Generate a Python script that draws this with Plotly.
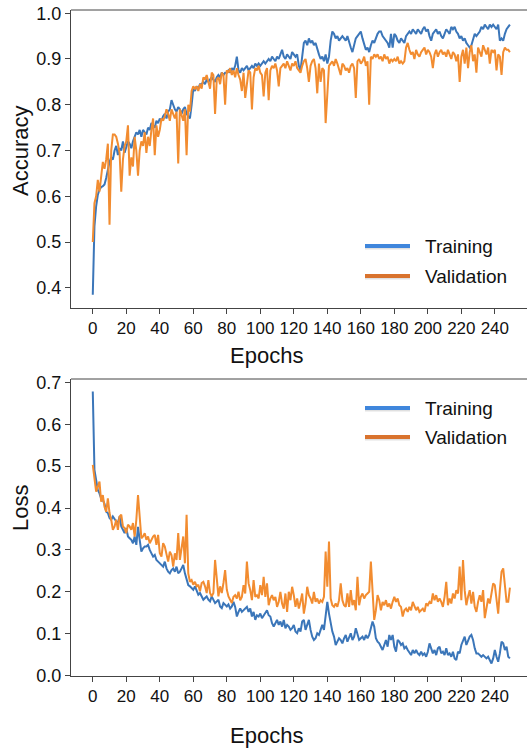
import plotly.graph_objects as go

epochs = list(range(250))

acc_train = [
    0.385, 0.535, 0.578, 0.603, 0.615, 0.620, 0.622, 0.626, 0.640, 0.660,
    0.675, 0.685, 0.680, 0.700, 0.710, 0.690, 0.705, 0.700, 0.720, 0.695,
    0.710, 0.720, 0.715, 0.705, 0.720, 0.730, 0.740, 0.735, 0.745, 0.730,
    0.745, 0.740, 0.735, 0.750, 0.745, 0.760, 0.755, 0.750, 0.765, 0.760,
    0.770, 0.765, 0.775, 0.780, 0.770, 0.785, 0.790, 0.810, 0.800, 0.790,
    0.785, 0.795, 0.790, 0.780, 0.790, 0.795, 0.780, 0.775, 0.770, 0.800,
    0.835, 0.830, 0.840, 0.835, 0.845, 0.845, 0.850, 0.845, 0.855, 0.850,
    0.855, 0.860, 0.855, 0.850, 0.860, 0.865, 0.860, 0.870, 0.865, 0.870,
    0.870, 0.875, 0.870, 0.880, 0.875, 0.885, 0.905, 0.875, 0.870, 0.880,
    0.875, 0.880, 0.885, 0.875, 0.880, 0.885, 0.880, 0.890, 0.885, 0.890,
    0.885, 0.890, 0.895, 0.890, 0.895, 0.900, 0.895, 0.905, 0.900, 0.895,
    0.905, 0.900, 0.910, 0.920, 0.905, 0.900, 0.910, 0.905, 0.900, 0.915,
    0.910, 0.905, 0.910, 0.885, 0.875, 0.900, 0.935, 0.940, 0.930, 0.945,
    0.935, 0.940, 0.930, 0.935, 0.920, 0.910, 0.900, 0.905, 0.895, 0.910,
    0.890, 0.905, 0.940, 0.960, 0.955, 0.945, 0.950, 0.940, 0.945, 0.950,
    0.945, 0.940, 0.950, 0.935, 0.925, 0.915, 0.930, 0.945, 0.950, 0.955,
    0.960, 0.945, 0.930, 0.920, 0.925, 0.915, 0.930, 0.940, 0.935, 0.945,
    0.955, 0.960, 0.960, 0.950, 0.945, 0.940, 0.935, 0.925, 0.955, 0.925,
    0.955, 0.950, 0.940, 0.935, 0.945, 0.940, 0.935, 0.950, 0.955, 0.960,
    0.955, 0.965, 0.960, 0.955, 0.965, 0.960, 0.955, 0.965, 0.970, 0.960,
    0.965, 0.950, 0.940, 0.955, 0.960, 0.965, 0.955, 0.960, 0.950, 0.945,
    0.955, 0.965, 0.960, 0.955, 0.970, 0.965, 0.970, 0.960, 0.955, 0.945,
    0.950, 0.940, 0.945, 0.935, 0.930, 0.925, 0.930, 0.945, 0.955, 0.950,
    0.955, 0.960, 0.970, 0.965, 0.975, 0.970, 0.965, 0.975, 0.970, 0.975,
    0.970, 0.965, 0.975, 0.940, 0.945, 0.940, 0.955, 0.965, 0.970, 0.975,
]

acc_val = [
    0.500, 0.585, 0.600, 0.636, 0.610, 0.640, 0.675, 0.660, 0.680, 0.715,
    0.538, 0.700, 0.735, 0.735, 0.730, 0.715, 0.695, 0.610, 0.680, 0.710,
    0.720, 0.755, 0.645, 0.685, 0.665, 0.730, 0.700, 0.645, 0.700, 0.720,
    0.710, 0.740, 0.695, 0.730, 0.710, 0.745, 0.770, 0.690, 0.755, 0.730,
    0.745, 0.770, 0.765, 0.775, 0.790, 0.780, 0.765, 0.790, 0.780, 0.770,
    0.785, 0.672, 0.790, 0.775, 0.765, 0.790, 0.690, 0.800, 0.785, 0.830,
    0.840, 0.835, 0.840, 0.830, 0.845, 0.835, 0.860, 0.855, 0.865, 0.850,
    0.835, 0.870, 0.865, 0.780, 0.855, 0.860, 0.845, 0.870, 0.865, 0.800,
    0.875, 0.870, 0.880, 0.865, 0.875, 0.860, 0.880, 0.865, 0.855, 0.830,
    0.870, 0.815, 0.850, 0.875, 0.870, 0.790, 0.860, 0.880, 0.875, 0.885,
    0.870, 0.865, 0.818, 0.870, 0.880, 0.810, 0.875, 0.885, 0.880, 0.890,
    0.875, 0.840, 0.880, 0.885, 0.890, 0.880, 0.895, 0.885, 0.875, 0.890,
    0.885, 0.895, 0.880, 0.875, 0.870, 0.885, 0.895, 0.900, 0.880, 0.850,
    0.885, 0.895, 0.900, 0.880, 0.825, 0.890, 0.850, 0.880, 0.875, 0.760,
    0.815, 0.885, 0.890, 0.895, 0.885, 0.900, 0.890, 0.875, 0.865, 0.890,
    0.885, 0.875, 0.880, 0.870, 0.885, 0.890, 0.880, 0.815, 0.895, 0.900,
    0.890, 0.895, 0.905, 0.885, 0.895, 0.800, 0.905, 0.900, 0.910, 0.905,
    0.910, 0.900, 0.905, 0.895, 0.910, 0.900, 0.905, 0.890, 0.900, 0.895,
    0.900, 0.895, 0.905, 0.890, 0.895, 0.890, 0.895, 0.925, 0.935, 0.920,
    0.910, 0.915, 0.900, 0.920, 0.910, 0.905, 0.915, 0.920, 0.925, 0.910,
    0.920, 0.915, 0.905, 0.880, 0.910, 0.920, 0.905, 0.915, 0.920, 0.910,
    0.915, 0.905, 0.920, 0.910, 0.900, 0.915, 0.910, 0.895, 0.910, 0.850,
    0.905, 0.920, 0.890, 0.925, 0.880, 0.915, 0.930, 0.895, 0.910, 0.870,
    0.925, 0.915, 0.905, 0.930, 0.920, 0.910, 0.925, 0.890, 0.920, 0.915,
    0.920, 0.875, 0.910, 0.905, 0.865, 0.915, 0.925, 0.920, 0.920, 0.915,
]

loss_train = [
    0.678, 0.491, 0.467, 0.443, 0.435, 0.423, 0.419, 0.410, 0.391, 0.388,
    0.376, 0.372, 0.380, 0.372, 0.368, 0.364, 0.380, 0.356, 0.348, 0.340,
    0.352, 0.332, 0.328, 0.324, 0.316, 0.332, 0.312, 0.355, 0.324, 0.296,
    0.304, 0.308, 0.308, 0.312, 0.300, 0.292, 0.284, 0.288, 0.276, 0.272,
    0.268, 0.264, 0.260, 0.272, 0.256, 0.248, 0.244, 0.252, 0.256, 0.248,
    0.260, 0.244, 0.248, 0.256, 0.264, 0.244, 0.228, 0.216, 0.213, 0.209,
    0.205, 0.213, 0.201, 0.193, 0.197, 0.189, 0.181, 0.185, 0.189, 0.181,
    0.177, 0.189, 0.181, 0.173, 0.177, 0.181, 0.165, 0.161, 0.173, 0.169,
    0.165, 0.170, 0.160, 0.165, 0.176, 0.164, 0.141, 0.152, 0.160, 0.152,
    0.156, 0.160, 0.164, 0.152, 0.160, 0.141, 0.152, 0.133, 0.144, 0.141,
    0.148, 0.137, 0.144, 0.152, 0.156, 0.144, 0.141, 0.125, 0.117, 0.125,
    0.133, 0.121, 0.129, 0.117, 0.133, 0.113, 0.121, 0.117, 0.109, 0.113,
    0.121, 0.105, 0.101, 0.113, 0.105, 0.129, 0.133, 0.109, 0.121, 0.133,
    0.109, 0.093, 0.085, 0.089, 0.101, 0.097, 0.109, 0.121, 0.109, 0.145,
    0.176, 0.148, 0.125, 0.105, 0.093, 0.073, 0.081, 0.089, 0.085, 0.077,
    0.089, 0.097, 0.081, 0.093, 0.101, 0.085, 0.093, 0.113, 0.097, 0.085,
    0.089, 0.093, 0.085, 0.097, 0.089, 0.097, 0.113, 0.129, 0.117, 0.089,
    0.081, 0.077, 0.069, 0.061, 0.073, 0.085, 0.069, 0.097, 0.085, 0.097,
    0.069, 0.057, 0.085, 0.081, 0.073, 0.077, 0.065, 0.069, 0.061, 0.053,
    0.049, 0.061, 0.053, 0.061, 0.053, 0.049, 0.057, 0.049, 0.053, 0.045,
    0.057, 0.077, 0.065, 0.053, 0.061, 0.049, 0.065, 0.069, 0.053, 0.057,
    0.049, 0.065, 0.049, 0.053, 0.045, 0.057, 0.041, 0.037, 0.057, 0.053,
    0.073, 0.085, 0.093, 0.073, 0.085, 0.093, 0.097, 0.085, 0.065, 0.053,
    0.053, 0.049, 0.045, 0.049, 0.045, 0.041, 0.045, 0.037, 0.029, 0.041,
    0.061, 0.045, 0.033, 0.053, 0.081, 0.077, 0.061, 0.069, 0.045, 0.041,
]

loss_val = [
    0.503, 0.467, 0.439, 0.451, 0.463, 0.415, 0.431, 0.403, 0.391, 0.423,
    0.388, 0.372, 0.348, 0.356, 0.372, 0.348, 0.380, 0.384, 0.356, 0.352,
    0.340, 0.360, 0.356, 0.348, 0.364, 0.332, 0.372, 0.431, 0.372, 0.328,
    0.332, 0.340, 0.324, 0.332, 0.316, 0.324, 0.332, 0.336, 0.312, 0.336,
    0.292, 0.284, 0.316, 0.308, 0.288, 0.272, 0.296, 0.288, 0.260, 0.292,
    0.276, 0.340, 0.276, 0.308, 0.332, 0.268, 0.384, 0.244, 0.224, 0.228,
    0.217, 0.224, 0.213, 0.217, 0.201, 0.221, 0.224, 0.213, 0.197, 0.228,
    0.197, 0.189, 0.197, 0.276, 0.228, 0.189, 0.213, 0.197, 0.221, 0.252,
    0.205, 0.189, 0.181, 0.173, 0.188, 0.192, 0.184, 0.200, 0.180, 0.188,
    0.216, 0.196, 0.272, 0.220, 0.204, 0.180, 0.228, 0.188, 0.192, 0.184,
    0.216, 0.192, 0.236, 0.188, 0.220, 0.168, 0.184, 0.192, 0.180, 0.188,
    0.164, 0.176, 0.200, 0.172, 0.160, 0.196, 0.152, 0.200, 0.180, 0.212,
    0.192, 0.164, 0.184, 0.160, 0.176, 0.196, 0.148, 0.172, 0.212, 0.192,
    0.184, 0.172, 0.200, 0.176, 0.184, 0.172, 0.180, 0.176, 0.188, 0.296,
    0.212, 0.320, 0.184, 0.168, 0.164, 0.172, 0.164, 0.180, 0.220, 0.180,
    0.168, 0.164, 0.196, 0.164, 0.204, 0.168, 0.180, 0.156, 0.236, 0.168,
    0.188, 0.196, 0.184, 0.192, 0.196, 0.200, 0.272, 0.188, 0.133, 0.156,
    0.192, 0.180, 0.156, 0.176, 0.168, 0.180, 0.164, 0.172, 0.160, 0.176,
    0.188, 0.176, 0.184, 0.168, 0.164, 0.141, 0.156, 0.160, 0.152, 0.164,
    0.156, 0.176, 0.168, 0.156, 0.164, 0.152, 0.156, 0.160, 0.152, 0.172,
    0.168, 0.176, 0.172, 0.196, 0.180, 0.192, 0.176, 0.184, 0.176, 0.164,
    0.188, 0.224, 0.168, 0.184, 0.172, 0.196, 0.184, 0.204, 0.196, 0.260,
    0.180, 0.276, 0.204, 0.168, 0.188, 0.204, 0.172, 0.200, 0.164, 0.152,
    0.176, 0.192, 0.176, 0.204, 0.137, 0.164, 0.184, 0.172, 0.192, 0.220,
    0.216, 0.188, 0.148, 0.204, 0.248, 0.256, 0.212, 0.176, 0.176, 0.210,
]

series_names = ["Training", "Validation"]
x_ticks = list(range(0, 241, 20))
acc_ticks = [0.4, 0.5, 0.6, 0.7, 0.8, 0.9, 1.0]
loss_ticks = [0.0, 0.1, 0.2, 0.3, 0.4, 0.5, 0.6, 0.7]

W, H = 527, 750
BLUE = "#3b76b9"
ORANGE = "#f28c30"
LEG_BLUE = "#3f86dc"
LEG_ORANGE = "#d9732e"
AXC = "#444"
FONT = "Liberation Sans, Arial, Helvetica, sans-serif"


def px_x(p):
    return p / W


def px_y(p):
    return 1 - p / H


fig = go.Figure()
fig.add_trace(go.Scatter(x=epochs, y=acc_train, mode="lines", name=series_names[0],
                         line=dict(color=BLUE, width=2), xaxis="x", yaxis="y", showlegend=False))
fig.add_trace(go.Scatter(x=epochs, y=acc_val, mode="lines", name=series_names[1],
                         line=dict(color=ORANGE, width=2), xaxis="x", yaxis="y", showlegend=False))
fig.add_trace(go.Scatter(x=epochs, y=loss_train, mode="lines", name=series_names[0],
                         line=dict(color=BLUE, width=2), xaxis="x2", yaxis="y2", showlegend=False))
fig.add_trace(go.Scatter(x=epochs, y=loss_val, mode="lines", name=series_names[1],
                         line=dict(color=ORANGE, width=2), xaxis="x2", yaxis="y2", showlegend=False))

x_common = dict(
    showgrid=False, zeroline=False, showline=True, linecolor=AXC, linewidth=1,
    ticks="outside", ticklen=5, tickwidth=1, tickcolor=AXC,
    tickfont=dict(family=FONT, size=17, color="#111"), automargin=False,
)
y_common = dict(
    showgrid=False, zeroline=False, showline=True, linecolor=AXC, linewidth=1,
    ticks="outside", ticklen=5, tickwidth=1, tickcolor=AXC, ticklabeloverflow="allow",
    tickfont=dict(family=FONT, size=18, color="#111"), automargin=False,
)

xr = [-13, 259.2]
top_acc, bot_acc = 10, 308
top_loss, bot_loss = 379, 676
fig.update_layout(
    width=W, height=H, margin=dict(l=0, r=0, t=0, b=0),
    paper_bgcolor="white", plot_bgcolor="white", showlegend=False,
    xaxis=dict(domain=[px_x(71), 1.0], range=xr, tickvals=x_ticks, anchor="y", **x_common),
    yaxis=dict(domain=[px_y(bot_acc), px_y(top_acc)], range=[0.356, 1.007], tickvals=acc_ticks,
               tickformat=".1f", anchor="x", **y_common),
    xaxis2=dict(domain=[px_x(71), 1.0], range=xr, tickvals=x_ticks, anchor="y2", **x_common),
    yaxis2=dict(domain=[px_y(bot_loss), px_y(top_loss)], range=[-0.001, 0.708], tickvals=loss_ticks,
                tickformat=".1f", anchor="x2", **y_common),
)

# top frame line of each panel
for yy in (top_acc, top_loss):
    fig.add_shape(type="line", xref="paper", yref="paper", layer="above",
                  x0=px_x(71), x1=1.0, y0=px_y(yy), y1=px_y(yy),
                  line=dict(color=AXC, width=1))

title_font = dict(family=FONT, size=22, color="#111")
annotations = [
    dict(text="Accuracy", x=px_x(20), y=px_y(151), textangle=-90),
    dict(text="Loss", x=px_x(20), y=px_y(508), textangle=-90),
    dict(text="Epochs", x=px_x(266), y=px_y(355)),
    dict(text="Epochs", x=px_x(266), y=px_y(735)),
]
for a in annotations:
    fig.add_annotation(xref="paper", yref="paper", showarrow=False, font=title_font,
                       xanchor="center", yanchor="middle", **a)

# legends (one per panel)
legend_rows = [
    (246, series_names[0], LEG_BLUE), (276, series_names[1], LEG_ORANGE),
    (408, series_names[0], LEG_BLUE), (437, series_names[1], LEG_ORANGE),
]
for yy, name, col in legend_rows:
    fig.add_shape(type="line", xref="paper", yref="paper",
                  x0=px_x(365), x1=px_x(410), y0=px_y(yy + 1.5), y1=px_y(yy + 1.5),
                  line=dict(color="rgba(0,0,0,0.12)", width=4))
    fig.add_shape(type="line", xref="paper", yref="paper",
                  x0=px_x(365), x1=px_x(410), y0=px_y(yy), y1=px_y(yy),
                  line=dict(color=col, width=4))
    fig.add_annotation(xref="paper", yref="paper", x=px_x(423), y=px_y(yy), text=name,
                       showarrow=False, xanchor="left", yanchor="middle",
                       font=dict(family=FONT, size=19, color="#111"))

# remove the browser's default 8px page margin so the 527x750 figure fills the window
fig.write_html("out.html", config={"displayModeBar": False},
               post_script="document.body.style.margin='0';")
